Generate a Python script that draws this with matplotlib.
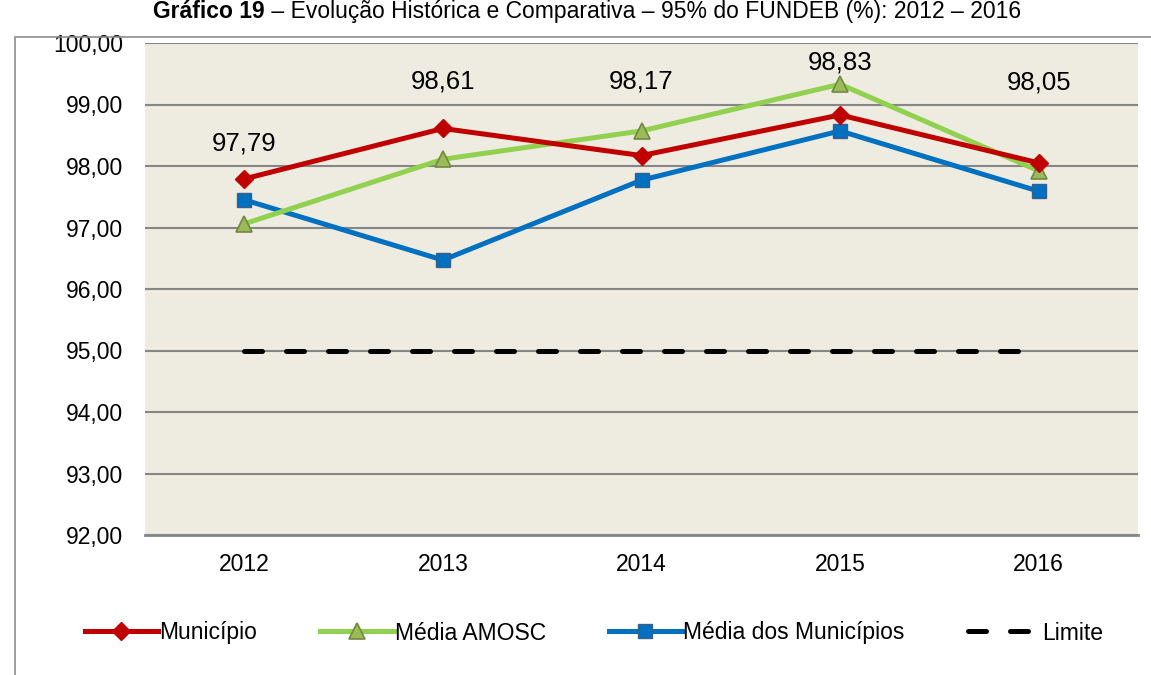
import matplotlib
matplotlib.use("Agg")
import matplotlib.pyplot as plt
from matplotlib.patches import Rectangle

years = ["2012", "2013", "2014", "2015", "2016"]
municipio = [97.79, 98.61, 98.17, 98.83, 98.05]
media_amosc = [97.06, 98.11, 98.57, 99.33, 97.92]
media_municipios = [97.45, 96.47, 97.77, 98.57, 97.59]
limite = [95.0, 95.0, 95.0, 95.0, 95.0]
yticks = [92, 93, 94, 95, 96, 97, 98, 99, 100]

# where the value labels sit (data coords)
label_y = [98.37, 99.37, 99.37, 99.69, 99.35]

plt.rcParams["font.family"] = ["Liberation Sans", "DejaVu Sans"]

fig = plt.figure(figsize=(11.51, 6.75), dpi=100)
ax = fig.add_axes([145 / 1151, 1 - 535 / 675, (1138 - 145) / 1151, (535 - 43) / 675])
ax.set_facecolor("#EEECE1")

# outer frame (only top and left visible in the crop)
fig.patches.append(Rectangle((15 / 1151, -0.1), 1.2, 1 - 37 / 675 + 0.1,
                             transform=fig.transFigure, fill=False,
                             edgecolor="#8C8C8C", linewidth=1.2, zorder=0))

x = list(range(len(years)))

ax.plot(x, limite, color="black", lw=3.6, dashes=(3.6, 4.8),
        dash_capstyle="round", label="Limite", zorder=3)
ax.plot(x, media_municipios, color="#0070C0", lw=3.6, marker="s", ms=10.5,
        mfc="#0070C0", mec="#3A5F8B", mew=1, label="Média dos Municípios", zorder=4)
ax.plot(x, media_amosc, color="#92D050", lw=3.6, marker="^", ms=11,
        mfc="#9BBB59", mec="#71893F", mew=1.2, label="Média AMOSC", zorder=5)
ax.plot(x, municipio, color="#C00000", lw=3.6, marker="D", ms=9.5,
        mfc="#C00000", mec="#C00000", label="Município", zorder=6)

for i, v in enumerate(municipio):
    ax.text(x[i], label_y[i], f"{v:.2f}".replace(".", ","), ha="center",
            va="center", fontsize=18.5, color="black", zorder=7)

ax.set_xlim(-0.5, len(years) - 0.5)
ax.set_ylim(92, 100)
ax.set_yticks(yticks)
ax.set_yticklabels([f"{t:.2f}".replace(".", ",") for t in yticks])
ax.set_xticks(x)
ax.set_xticklabels(years)
ax.tick_params(axis="both", length=0, labelsize=16.5)
ax.tick_params(axis="y", pad=15.5)
ax.tick_params(axis="x", pad=13)
ax.grid(axis="y", color="#868686", lw=1.5)
ax.set_axisbelow(True)
for s in ["top", "right", "left"]:
    ax.spines[s].set_visible(False)
ax.spines["bottom"].set_color("#868686")
ax.spines["bottom"].set_linewidth(2)

h, l = ax.get_legend_handles_labels()
order = [3, 2, 1, 0]
fig.legend([h[i] for i in order], [l[i] for i in order], loc="center",
           bbox_to_anchor=(594 / 1151, 1 - 633 / 675), ncol=4, frameon=False,
           fontsize=16.5, handlelength=3.2, handletextpad=0.05, columnspacing=2.75)

# title: bold part + regular part, centred together
title_y = 1 - 18 / 675
t1 = fig.text(0, title_y, "Gráfico 19", ha="left", va="baseline",
              fontsize=16.5, fontweight="bold")
t2 = fig.text(0, title_y, " – Evolução Histórica e Comparativa – 95% do FUNDEB (%): 2012 – 2016",
              ha="left", va="baseline", fontsize=16.5)
r = fig.canvas.get_renderer()
w1 = t1.get_window_extent(r).width
w2 = t2.get_window_extent(r).width
x0 = 587 - (w1 + w2) / 2
t1.set_x(x0 / 1151)
t2.set_x((x0 + w1) / 1151)

fig.savefig("out.png", dpi=100)
